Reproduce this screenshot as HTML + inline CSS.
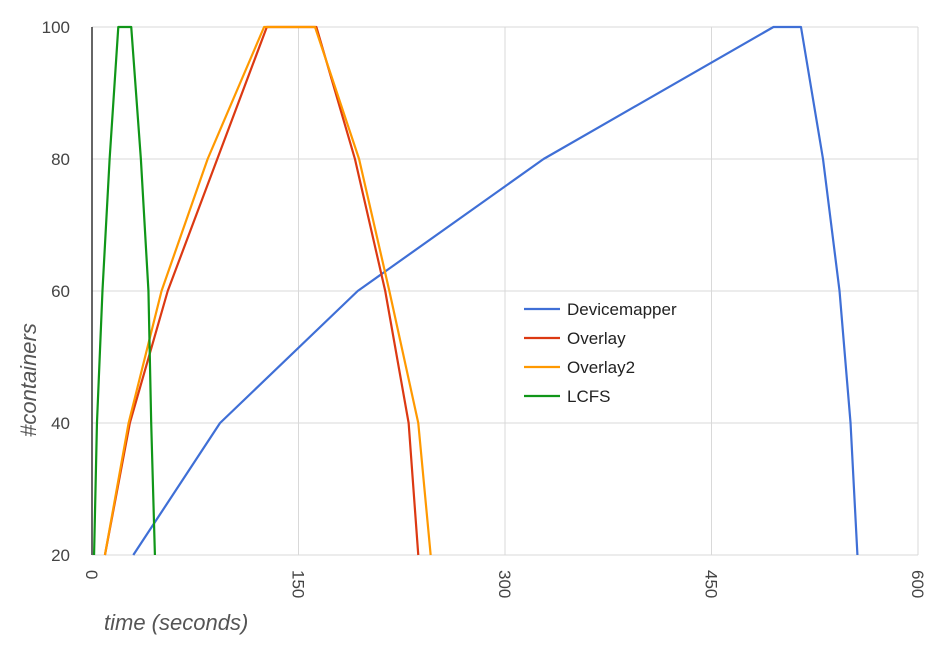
<!DOCTYPE html>
<html><head><meta charset="utf-8"><style>
body{margin:0;background:#fff;width:934px;height:641px;overflow:hidden}
svg{font-family:"Liberation Sans",Arial,sans-serif}
</style></head><body>
<svg id="chart" width="934" height="641"></svg>
<script>
const xTicks=[0,150,300,450,600];
const yTicks=[20,40,60,80,100];
const seriesNames=["Devicemapper","Overlay","Overlay2","LCFS"];
const seriesColors=["#3f6fd6","#dc3912","#ff9900","#109618"];
const dmX=[30,93,193,328,495,515,531,543,551,556];
const dmY=[20,40,60,80,100,100,80,60,40,20];
const ovX=[9.4,27.5,55,91,127,163,191,213,230,237];
const ovY=[20,40,60,80,100,100,80,60,40,20];
const ov2X=[9.4,26.6,50.5,84,125,162,194,216,237,246];
const ov2Y=[20,40,60,80,100,100,80,60,40,20];
const lcX=[1.5,3.6,7.6,12.8,19.1,28.5,35.5,41,43,45.7];
const lcY=[20,40,60,80,100,100,80,60,40,20];
const allX=[dmX,ovX,ov2X,lcX], allY=[dmY,ovY,ov2Y,lcY];
const NS="http://www.w3.org/2000/svg";
const svg=document.getElementById('chart');
const L=92,R=918,T=27,B=555;
const sx=v=>L+(v-0)/600*(R-L);
const sy=v=>B-(v-20)/80*(B-T);
function mk(tag,at,parent){const e=document.createElementNS(NS,tag);for(const k in at)e.setAttribute(k,at[k]);(parent||svg).appendChild(e);return e;}
yTicks.forEach(t=>{
 const g=mk('line',{x1:L,x2:R,y1:sy(t),y2:sy(t),stroke:'#d9d9d9','stroke-width':1});
 
 
 const tx=mk('text',{x:70,y:sy(t)+6,'text-anchor':'end','font-size':17,fill:'#444'});
 tx.textContent=t;
 
 
});
xTicks.forEach(t=>{
 if(t>0){const g=mk('line',{x1:sx(t),x2:sx(t),y1:T,y2:B,stroke:'#d9d9d9','stroke-width':1});
 
 }
 const tx=mk('text',{transform:`translate(${sx(t)-6},570) rotate(90)`,'font-size':17,fill:'#444'});
 tx.textContent=t;
 
 
});
const ax=mk('line',{x1:L,x2:L,y1:T,y2:B,stroke:'#333','stroke-width':1.5});


allX.forEach((xs,i)=>{
 const p=mk('polyline',{points:xs.map((x,j)=>sx(x)+','+sy(allY[i][j])).join(' '),fill:'none',stroke:seriesColors[i],'stroke-width':2.2,'stroke-linejoin':'round'});
 
 
 const ly=309+i*29;
 const ll=mk('line',{x1:524,x2:560,y1:ly,y2:ly,stroke:seriesColors[i],'stroke-width':2.2});
 
 
 const lt=mk('text',{x:567,y:ly+6,'font-size':17,fill:'#222'});
 lt.textContent=seriesNames[i];
 
 
});
const yt=mk('text',{transform:'translate(36,380) rotate(-90)','text-anchor':'middle','font-size':22,'font-style':'italic',fill:'#555'});
yt.textContent='#containers';


const xt=mk('text',{x:104,y:630,'font-size':22,'font-style':'italic',fill:'#555'});
xt.textContent='time (seconds)';


</script>
</body></html>
